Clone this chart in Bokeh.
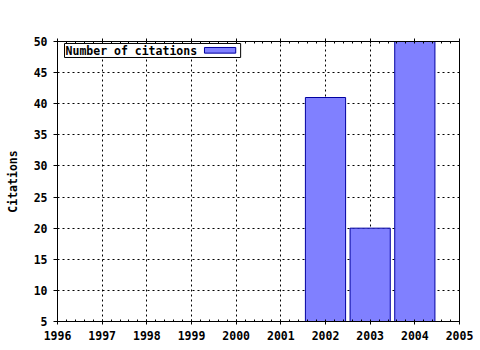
from bokeh.plotting import figure
from bokeh.models import FixedTicker, Range1d, LinearAxis, BoxAnnotation, Label
from bokeh.embed import file_html
from bokeh.resources import INLINE

years = [2002, 2003, 2004]
citations = [41, 20, 50]
x_ticks = [1996, 1997, 1998, 1999, 2000, 2001, 2002, 2003, 2004, 2005]
y_ticks = [5, 10, 15, 20, 25, 30, 35, 40, 45, 50]
legend_label = "Number of citations"
y_label = "Citations"

FONT = "DejaVu Sans Mono"
FILL = "#8080FF"
EDGE = "#0000A0"

p = figure(width=480, height=350, output_backend="svg", toolbar_location=None,
           x_range=Range1d(1996, 2005), y_range=Range1d(5, 50),
           min_border_left=57, min_border_right=21, min_border_top=41, min_border_bottom=29)
p.background_fill_color = "white"
p.border_fill_color = "white"
p.outline_line_color = "black"
p.outline_line_width = 1

p.vbar(x=years, top=citations, bottom=0, width=0.9, fill_color=FILL, line_color=EDGE, line_width=1)

minor = [1996 + i * 0.2 for i in range(46)]
xt = FixedTicker(ticks=x_ticks, minor_ticks=minor)
yt = FixedTicker(ticks=y_ticks, minor_ticks=[])

for ax in p.xaxis:
    ax.ticker = xt
    ax.major_tick_out = 3
    ax.major_tick_in = 0
    ax.minor_tick_in = 2
    ax.minor_tick_out = 0
    ax.major_label_standoff = 6
    ax.major_label_text_font = FONT
    ax.major_label_text_font_style = "bold"
    ax.major_label_text_font_size = "11.5px"
    ax.major_label_text_color = "black"
    ax.axis_line_color = "black"

for ax in p.yaxis:
    ax.ticker = yt
    ax.major_tick_out = 4
    ax.major_tick_in = 0
    ax.minor_tick_in = 0
    ax.minor_tick_out = 0
    ax.major_label_standoff = 6
    ax.major_label_text_font = FONT
    ax.major_label_text_font_style = "bold"
    ax.major_label_text_font_size = "11.5px"
    ax.major_label_text_color = "black"
    ax.axis_label = y_label
    ax.axis_label_text_font = FONT
    ax.axis_label_text_font_style = "bold"
    ax.axis_label_text_font_size = "11.5px"
    ax.axis_label_text_color = "black"
    ax.axis_label_standoff = 11
    ax.axis_line_color = "black"

top_ax = LinearAxis(ticker=xt, major_tick_out=3, major_tick_in=0,
                    minor_tick_in=2, minor_tick_out=0, axis_line_color="black",
                    major_label_overrides={t: "" for t in x_ticks})
p.add_layout(top_ax, "above")

p.xgrid.ticker = FixedTicker(ticks=x_ticks[1:-1])
p.ygrid.ticker = FixedTicker(ticks=y_ticks[1:-1])
for g in (p.xgrid[0], p.ygrid[0]):
    g.grid_line_color = "black"
    g.grid_line_dash = "2 3"
    g.grid_line_width = 1

# legend (label then swatch), placed in data coordinates
p.add_layout(BoxAnnotation(left=1996.157, right=2000.10, bottom=47.43, top=49.68,
                           fill_color="white", fill_alpha=1, line_color="black", line_alpha=1,
                           line_width=1, level="annotation"))
p.add_layout(BoxAnnotation(left=1999.29, right=1999.99, bottom=48.13, top=49.04,
                           fill_color=FILL, fill_alpha=1, line_color=EDGE, line_alpha=1,
                           line_width=1, level="annotation"))
p.add_layout(Label(x=1996.18, y=48.55, text=legend_label, text_font=FONT, text_font_style="bold",
                   text_font_size="11.5px", text_baseline="middle", text_color="black"))

open("out.html", "w").write(file_html(p, INLINE))
